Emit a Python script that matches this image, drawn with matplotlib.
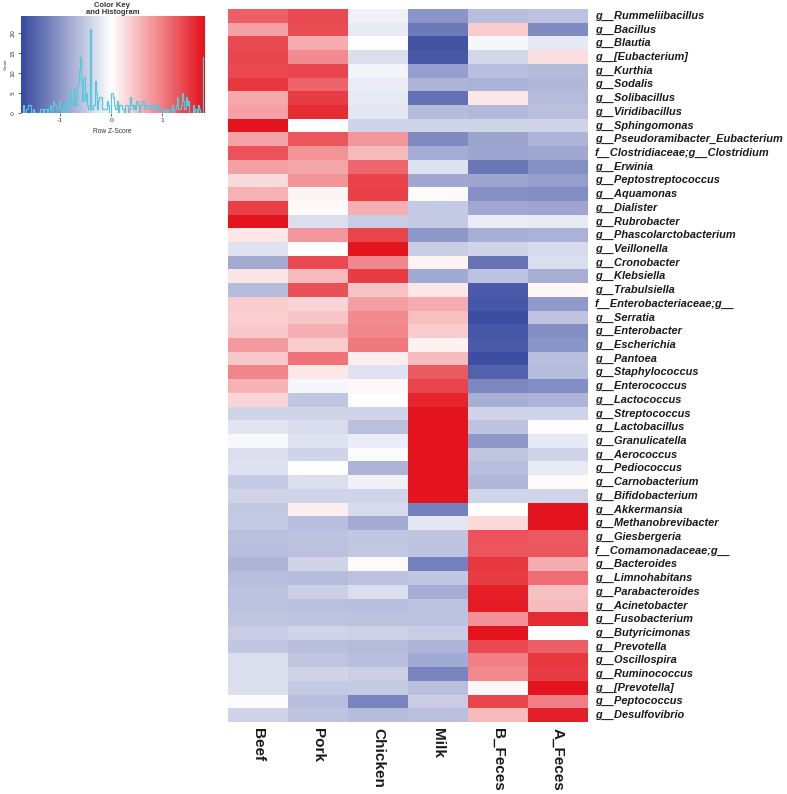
import numpy as np
import matplotlib
matplotlib.use("Agg")
import matplotlib.pyplot as plt
from matplotlib.colors import LinearSegmentedColormap, Normalize

genera = [
    "g__Rummeliibacillus", "g__Bacillus", "g__Blautia", "g__[Eubacterium]", "g__Kurthia",
    "g__Sodalis", "g__Solibacillus", "g__Viridibacillus", "g__Sphingomonas",
    "g__Pseudoramibacter_Eubacterium", "f__Clostridiaceae;g__Clostridium", "g__Erwinia",
    "g__Peptostreptococcus", "g__Aquamonas", "g__Dialister", "g__Rubrobacter",
    "g__Phascolarctobacterium", "g__Veillonella", "g__Cronobacter", "g__Klebsiella",
    "g__Trabulsiella", "f__Enterobacteriaceae;g__", "g__Serratia", "g__Enterobacter",
    "g__Escherichia", "g__Pantoea", "g__Staphylococcus", "g__Enterococcus",
    "g__Lactococcus", "g__Streptococcus", "g__Lactobacillus", "g__Granulicatella",
    "g__Aerococcus", "g__Pediococcus", "g__Carnobacterium", "g__Bifidobacterium",
    "g__Akkermansia", "g__Methanobrevibacter", "g__Giesbergeria", "f__Comamonadaceae;g__",
    "g__Bacteroides", "g__Limnohabitans", "g__Parabacteroides", "g__Acinetobacter",
    "g__Fusobacterium", "g__Butyricimonas", "g__Prevotella", "g__Oscillospira",
    "g__Ruminococcus", "g__[Prevotella]", "g__Peptococcus", "g__Desulfovibrio",
]
samples = ["Beef", "Pork", "Chicken", "Milk", "B_Feces", "A_Feces"]

beef = [1.21, 0.72, 1.37, 1.42, 1.39, 1.52, 0.66, 0.73, 1.9, 0.69,
        1.31, 0.71, 0.28, 0.59, 1.46, 1.9, 0.19, -0.28, -0.81, 0.21,
        -0.64, 0.39, 0.37, 0.42, 0.76, 0.41, 0.93, 0.58, 0.32, -0.41,
        -0.24, -0.06, -0.31, -0.29, -0.52, -0.41, -0.53, -0.51, -0.61, -0.62,
        -0.72, -0.63, -0.59, -0.58, -0.56, -0.48, -0.54, -0.32, -0.31, -0.3,
        -0.04, -0.41]
pork = [1.38, 1.36, 0.62, 0.88, 1.41, 1.18, 1.48, 1.61, 0.01, 1.29,
        0.82, 0.68, 0.81, 0.08, 0.04, -0.32, 0.79, 0.02, 1.39, 0.52,
        1.33, 0.31, 0.43, 0.61, 0.39, 1.06, 0.18, -0.08, -0.54, -0.41,
        -0.33, -0.27, -0.41, 0.01, -0.31, -0.41, 0.12, -0.62, -0.59, -0.6,
        -0.41, -0.64, -0.46, -0.61, -0.57, -0.41, -0.63, -0.56, -0.41, -0.51,
        -0.62, -0.57]
chicken = [-0.12, -0.19, 0.02, -0.31, -0.09, -0.17, -0.21, -0.23, -0.41, 0.79,
           0.51, 1.16, 1.44, 1.46, 0.61, -0.49, 1.41, 1.9, 0.91, 1.49,
           0.46, 0.74, 0.88, 0.92, 1.02, 0.13, -0.28, 0.06, 0.01, -0.41,
           -0.61, -0.18, -0.04, -0.72, -0.14, -0.41, -0.34, -0.81, -0.54, -0.53,
           0.04, -0.58, -0.32, -0.62, -0.6, -0.44, -0.66, -0.63, -0.46, -0.52,
           -1.19, -0.64]
milk = [-1.02, -1.28, -1.66, -1.61, -0.93, -0.71, -1.37, -0.64, -0.41, -1.13,
        -0.79, -0.29, -0.84, 0.03, -0.52, -0.51, -1.01, -0.47, 0.09, -0.82,
        0.19, 0.62, 0.48, 0.38, 0.11, 0.51, 1.26, 1.42, 1.66, 1.9,
        1.9, 1.9, 1.9, 1.9, 1.9, 1.9, -1.22, -0.23, -0.57, -0.58,
        -1.21, -0.54, -0.79, -0.6, -0.59, -0.49, -0.71, -0.82, -1.19, -0.61,
        -0.48, -0.61]
b_feces = [-0.63, 0.38, -0.08, -0.39, -0.62, -0.74, 0.18, -0.68, -0.41, -0.88,
           -0.86, -1.31, -0.87, -1.07, -0.83, -0.18, -0.76, -0.41, -1.34, -0.59,
           -1.58, -1.62, -1.72, -1.63, -1.59, -1.71, -1.52, -1.14, -0.77, -0.41,
           -0.59, -1.01, -0.56, -0.63, -0.69, -0.41, 0.01, 0.29, 1.31, 1.29,
           1.52, 1.48, 1.71, 1.73, 0.84, 1.9, 1.39, 0.97, 0.89, 0.06,
           1.42, 0.51]
a_feces = [-0.58, -1.12, -0.22, 0.24, -0.67, -0.69, -0.66, -0.61, -0.41, -0.73,
           -0.83, -1.08, -0.94, -1.11, -0.86, -0.21, -0.74, -0.36, -0.31, -0.78,
           0.07, -0.98, -0.57, -1.09, -1.03, -0.62, -0.64, -1.1, -0.73, -0.41,
           0.02, -0.22, -0.41, -0.19, 0.03, -0.41, 1.9, 1.9, 1.27, 1.28,
           0.63, 1.12, 0.47, 0.52, 1.62, 0.0, 1.21, 1.52, 1.49, 1.9,
           0.98, 1.71]

key_ticks = [-1, 0, 1]
key_yticks = [0, 5, 10, 15, 20]

Z = np.column_stack([beef, pork, chicken, milk, b_feces, a_feces])
zmin, zmax = -1.77, 1.82

cmap = LinearSegmentedColormap.from_list("bwr_r", ["#34469E", "#FFFFFF", "#E4141E"])
norm = Normalize(vmin=-1.8, vmax=1.8)

W, H = 787, 794
fig = plt.figure(figsize=(W / 100, H / 100), dpi=100)
lab_font = "Liberation Sans"

# ---- heatmap ----
ax = fig.add_axes([228 / W, 1 - 722 / H, 360 / W, 713 / H])
nrow, ncol = Z.shape
ax.imshow(Z, cmap=cmap, norm=norm, aspect="auto", interpolation="nearest",
          extent=(-0.5, ncol - 0.5, nrow - 0.5, -0.5))
ax.set_xlim(-0.5, ncol - 0.5)
ax.set_ylim(nrow - 0.5, -0.5)
ax.set_xticks([])
ax.set_yticks([])
for s in ax.spines.values():
    s.set_visible(False)

xoff = (595 - 228) / 360
for i, g in enumerate(genera):
    ax.text(xoff, i, g, transform=ax.get_yaxis_transform(), ha="left", va="center",
            fontsize=7.9, fontweight="bold", style="italic", family=lab_font, color="#1a1a1a")
for j, s in enumerate(samples):
    ax.text(j, -6 / 713, s, transform=ax.get_xaxis_transform(), ha="center", va="top",
            rotation=270, fontsize=11, fontweight="bold", family=lab_font, color="#1a1a1a")

# ---- color key ----
kx0, kx1, ky0, ky1 = 20.7, 204, 16, 113
kax = fig.add_axes([kx0 / W, 1 - ky1 / H, (kx1 - kx0) / W, (ky1 - ky0) / H])
grad = np.linspace(zmin, zmax, 400)[None, :]
ytop = 24.2
kax.imshow(grad, cmap=cmap, norm=norm, aspect="auto", extent=(zmin, zmax, 0, ytop),
           interpolation="bilinear")
bins = np.linspace(zmin, zmax, 150)
counts, edges = np.histogram(np.clip(Z.ravel(), zmin, zmax - 1e-6), bins=bins)
kax.stairs(counts, edges, color="#5CC6DA", lw=0.9, baseline=0)
kax.set_xlim(zmin, zmax)
kax.set_ylim(0, ytop)
for s in kax.spines.values():
    s.set_visible(False)
kax.set_xticks(key_ticks)
kax.set_xticklabels([str(t) for t in key_ticks])
kax.set_yticks(key_yticks)
kax.set_yticklabels([str(t) for t in key_yticks], rotation=90, va="center")
kax.tick_params(axis="both", labelsize=4.5, length=2, width=0.5, pad=1.5, colors="#333333")
kax.set_xlabel("Row Z-Score", fontsize=4.8, family=lab_font, color="#333333", labelpad=4)
kax.set_ylabel("Count", fontsize=3.2, family=lab_font, color="#333333", labelpad=2)
kax.set_title("Color Key\nand Histogram", fontsize=5.5, fontweight="bold", family=lab_font,
              color="#333333", pad=1.5, linespacing=1.05)

fig.savefig("out.png", dpi=100)
